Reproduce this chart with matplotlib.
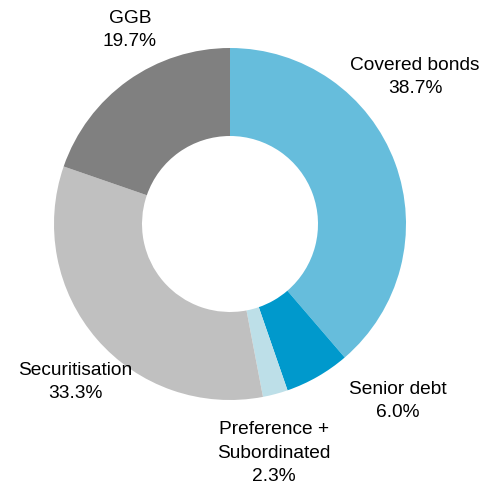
import matplotlib.pyplot as plt
import numpy as np

plt.rcParams['font.family'] = ['Liberation Sans', 'DejaVu Sans']

# funding mix, clockwise from 12 o'clock
categories = ['Covered bonds', 'Senior debt', 'Preference +\nSubordinated',
              'Securitisation', 'GGB']
shares = [38.7, 6.0, 2.3, 33.3, 19.7]
colors = ['#66BDDC', '#0099CC', '#BDDFE8', '#C0C0C0', '#808080']

# label anchors (pixel offsets from the ring centre, y up)
label_pos = [(185, 147), (168, -177), (44, -229), (-155, -158), (-100, 194)]

fig = plt.figure(figsize=(4.84, 4.88), dpi=100)
ax = fig.add_axes([0, 0, 1, 1])

ax.pie(shares, colors=colors, startangle=90, counterclock=False,
       radius=176, wedgeprops=dict(width=88, linewidth=0))

for name, val, (x, y) in zip(categories, shares, label_pos):
    ax.text(x, y, f'{name}\n{val:.1f}%', ha='center', va='center',
            fontsize=13.8, linespacing=1.5)

ax.set_xlim(-230, 254)
ax.set_ylim(-264, 224)
ax.set_aspect('equal')
ax.axis('off')

fig.savefig('out.png', dpi=100)
